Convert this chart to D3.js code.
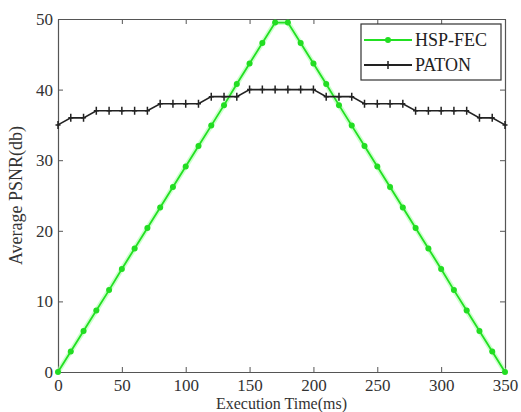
<!DOCTYPE html>
<html>
<head>
<meta charset="utf-8">
<script src="https://cdn.jsdelivr.net/npm/d3@7"></script>
<style>
  body { margin: 0; background: #fff; }
  svg { display: block; }
  text { font-family: 'Liberation Serif', 'Times New Roman', serif; }
</style>
</head>
<body>
<div id="chart"></div>
<script>
// data
var times = [0, 10, 20, 30, 40, 50, 60, 70, 80, 90, 100, 110, 120, 130, 140, 150, 160, 170,
             180, 190, 200, 210, 220, 230, 240, 250, 260, 270, 280, 290, 300, 310, 320, 330, 340, 350];
var hspFec = [0, 2.9, 5.8, 8.7, 11.6, 14.6, 17.5, 20.4, 23.3, 26.2, 29.1, 32.0, 34.9, 37.8, 40.8, 43.7, 46.6, 49.5,
              49.5, 46.6, 43.7, 40.8, 37.8, 34.9, 32.0, 29.1, 26.2, 23.3, 20.4, 17.5, 14.6, 11.6, 8.7, 5.8, 2.9, 0];
var paton = [35, 36, 36, 37, 37, 37, 37, 37, 38, 38, 38, 38, 39, 39, 39, 40, 40, 40,
             40, 40, 40, 39, 39, 39, 38, 38, 38, 38, 37, 37, 37, 37, 37, 36, 36, 35];
var xTicks = [0, 50, 100, 150, 200, 250, 300, 350];
var yTicks = [0, 10, 20, 30, 40, 50];
var seriesNames = ['HSP-FEC', 'PATON'];

var W = 521, H = 412;
var margin = { left: 58, top: 19, right: 16, bottom: 40 };
var width = W - margin.left - margin.right;
var height = H - margin.top - margin.bottom;

var svg = d3.select('#chart')
    .append('svg')
    .attr('width', W)
    .attr('height', H)
    .append('g')
    .attr('transform', 'translate(' + margin.left + ', ' + margin.top + ')');

var xScale = d3.scaleLinear().domain([0, 350]).range([0, width]);
var yScale = d3.scaleLinear().domain([0, 50]).range([height, 0]);

var font = "'Liberation Serif', 'Times New Roman', serif";

// box with inward ticks on all sides
var xBottom = svg.append('g')
    .attr('transform', 'translate(0, ' + height + ')')
    .call(d3.axisBottom(xScale).tickValues(xTicks).tickSizeInner(-5).tickSizeOuter(0).tickPadding(7));
var xTop = svg.append('g')
    .call(d3.axisTop(xScale).tickValues(xTicks).tickSizeInner(-5).tickSizeOuter(0).tickFormat(''));
var yLeft = svg.append('g')
    .call(d3.axisLeft(yScale).tickValues(yTicks).tickSizeInner(-5).tickSizeOuter(0).tickPadding(5));
var yRight = svg.append('g')
    .attr('transform', 'translate(' + width + ', 0)')
    .call(d3.axisRight(yScale).tickValues(yTicks).tickSizeInner(-5).tickSizeOuter(0).tickFormat(''));

[xBottom, xTop, yLeft, yRight].forEach(function(a) {
    a.attr('font-family', font);
    a.select('.domain').attr('stroke', '#555').attr('stroke-width', 1.2);
    a.selectAll('.tick line').attr('stroke', '#555');
    a.selectAll('.tick text')
        .style('font-family', font)
        .attr('font-size', '17px')
        .attr('fill', '#333');
});

var lineFn = function(vals) {
    return d3.line()
        .x(function(d, i) { return xScale(times[i]); })
        .y(function(d) { return yScale(d); })(vals);
};

// HSP-FEC
svg.append('path')
    .attr('d', lineFn(hspFec))
    .attr('fill', 'none')
    .attr('stroke', '#aaffaa')
    .attr('stroke-width', 5)
    .attr('opacity', 0.6);
svg.append('path')
    .attr('d', lineFn(hspFec))
    .attr('fill', 'none')
    .attr('stroke', '#22e022')
    .attr('stroke-width', 1.8);
svg.selectAll('.hsp-pt')
    .data(hspFec)
    .enter()
    .append('circle')
    .attr('class', 'hsp-pt')
    .attr('cx', function(d, i) { return xScale(times[i]); })
    .attr('cy', function(d) { return yScale(d); })
    .attr('r', 3)
    .attr('fill', '#22dd22');

// PATON
svg.append('path')
    .attr('d', lineFn(paton))
    .attr('fill', 'none')
    .attr('stroke', '#222')
    .attr('stroke-width', 1.6);
svg.selectAll('.paton-pt')
    .data(paton)
    .enter()
    .append('path')
    .attr('class', 'paton-pt')
    .attr('d', function(d, i) {
        var x = xScale(times[i]), y = yScale(d);
        return 'M' + (x - 2.5) + ',' + y + 'H' + (x + 2.5) + 'M' + x + ',' + (y - 4) + 'V' + (y + 4);
    })
    .attr('stroke', '#222')
    .attr('stroke-width', 1.5);

// legend
var lg = svg.append('g').attr('transform', 'translate(' + (361 - margin.left) + ', ' + (24 - margin.top) + ')');
lg.append('rect')
    .attr('width', 140)
    .attr('height', 56)
    .attr('fill', '#fff')
    .attr('stroke', '#333')
    .attr('stroke-width', 1.2);
var colors = ['#22e022', '#222'];
seriesNames.forEach(function(name, i) {
    var y = 16 + i * 25;
    lg.append('line')
        .attr('x1', 3).attr('x2', 51)
        .attr('y1', y).attr('y2', y)
        .attr('stroke', colors[i])
        .attr('stroke-width', 1.8);
    if (i == 0) {
        lg.append('circle').attr('cx', 27).attr('cy', y).attr('r', 3).attr('fill', '#22dd22');
    } else {
        lg.append('path')
            .attr('d', 'M24.5,' + y + 'H29.5M27,' + (y - 4) + 'V' + (y + 4))
            .attr('stroke', '#222').attr('stroke-width', 1.5);
    }
    lg.append('text')
        .attr('x', 54)
        .attr('y', y + 6)
        .style('font-family', font)
        .attr('font-size', '18px')
        .attr('fill', '#222')
        .text(name);
});

// axis titles
svg.append('text')
    .attr('x', width / 2)
    .attr('y', height + 37)
    .style('font-family', font)
    .attr('font-size', '16px')
    .attr('fill', '#333')
    .attr('text-anchor', 'middle')
    .text('Execution Time(ms)');

svg.append('text')
    .attr('x', -height / 2)
    .attr('y', -36)
    .style('font-family', font)
    .attr('font-size', '18px')
    .attr('fill', '#333')
    .attr('text-anchor', 'middle')
    .attr('transform', 'rotate(-90)')
    .text('Average PSNR(db)');
</script>
</body>
</html>
